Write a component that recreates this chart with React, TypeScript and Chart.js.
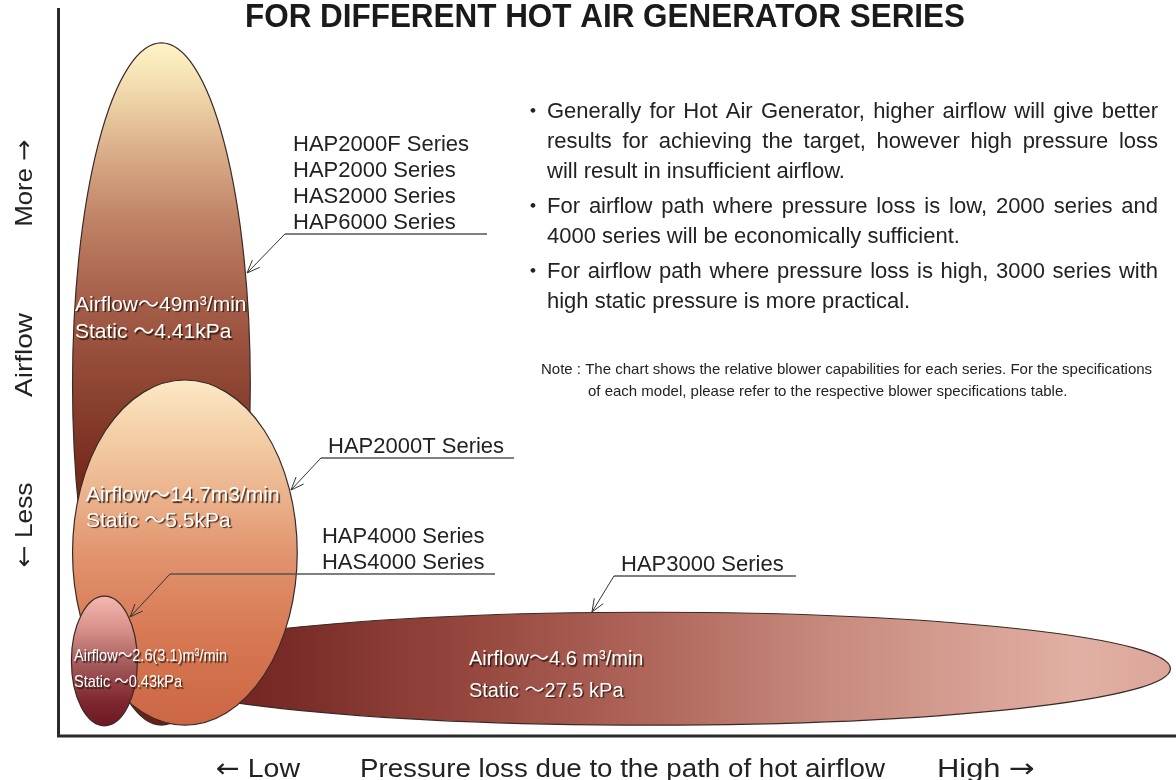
import React, { useEffect, useRef } from "react";
import { Chart, registerables } from "chart.js";

Chart.register(...registerables);

// ---- Data (relative blower capability ranges, arbitrary 0-100 units) ----
const SERIES = ["HAP2000F", "HAP3000", "HAP2000T", "HAP4000"]; // draw order
const PRESSURE_FROM = [1.3, 6.4, 1.3, 1.2];
const PRESSURE_TO = [17.2, 99.5, 21.4, 7.1];
const AIRFLOW_FROM = [1.5, 1.5, 1.5, 1.4];
const AIRFLOW_TO = [95.2, 17.0, 48.9, 19.2];

const SPEC_AIRFLOW = ["Airflow～49m³/min", "Airflow～4.6 m³/min", "Airflow～14.7m3/min", "Airflow～2.6(3.1)m³/min"];
const SPEC_STATIC = ["Static ～4.41kPa", "Static ～27.5 kPa", "Static ～5.5kPa", "Static ～0.43kPa"];
const SERIES_NAMES = [
  ["HAP2000F Series", "HAP2000 Series", "HAS2000 Series", "HAP6000 Series"],
  ["HAP3000 Series"],
  ["HAP2000T Series"],
  ["HAP4000 Series", "HAS4000 Series"],
];

const TITLE = "FOR DIFFERENT HOT AIR GENERATOR SERIES";
const Y_LABELS = ["More →", "Airflow", "← Less"];
const X_LABELS = ["← Low", "Pressure loss due to the path of hot airflow", "High →"];
const PARAGRAPHS = [
  [
    "Generally for Hot Air Generator, higher airflow will give better",
    "results for achieving the target, however high pressure loss",
    "will result in insufficient airflow.",
  ],
  ["For airflow path where pressure loss is low, 2000 series and", "4000 series will be economically sufficient."],
  ["For airflow path where pressure loss is high, 3000 series with", "high static pressure is more practical."],
];
const NOTE_LINES = [
  "Note : The chart shows the relative blower capabilities for each series. For the specifications",
  "of each model, please refer to the respective blower specifications table.",
];

// ---- Styles / layout ----
const FONT = '"Liberation Sans", "DejaVu Sans", "Noto Sans CJK JP", sans-serif';
const ARROW_FONT = '"DejaVu Sans", sans-serif';
const GRADIENTS: { dir: "v" | "h"; stops: [number, string][] }[] = [
  {
    dir: "v",
    stops: [
      [0, "#fef4c8"], [0.04, "#f8e6b8"], [0.09, "#ecd0a4"], [0.15, "#dcb28c"], [0.26, "#c08266"],
      [0.38, "#a55e48"], [0.52, "#8a4230"], [0.63, "#772b1d"], [1, "#6a2014"],
    ],
  },
  {
    dir: "h",
    stops: [
      [0, "#6a1c1a"], [0.16, "#7a2c28"], [0.33, "#96483f"], [0.49, "#ae6458"], [0.66, "#c6887c"],
      [0.84, "#daa498"], [0.91, "#e2b0a4"], [1, "#dca69a"],
    ],
  },
  {
    dir: "v",
    stops: [
      [0, "#fce9c6"], [0.15, "#f4d0a8"], [0.35, "#eab08a"], [0.52, "#e0926c"], [0.75, "#d67852"], [1, "#cc6644"],
    ],
  },
  {
    dir: "v",
    stops: [[0, "#f4b8b0"], [0.26, "#d8908a"], [0.5, "#a86060"], [0.8, "#802830"], [1, "#6c1822"]],
  },
];
// spec text anchor (data units) and font size
const SPEC_POS = [
  { x: 1.52, y1: 58.38, y2: 54.67, size: 21, maxW1: 0, maxW2: 0 },
  { x: 36.76, y1: 9.75, y2: 5.36, size: 20, maxW1: 0, maxW2: 0 },
  { x: 2.5, y1: 32.28, y2: 28.71, size: 21, maxW1: 0, maxW2: 0 },
  { x: 1.43, y1: 10.3, y2: 6.73, size: 17, maxW1: 153, maxW2: 108 },
];
// callouts (data units)
const CALLOUTS = [
  { tip: [16.91, 63.6], elbow: [20.3, 68.96], endX: 38.37, textX: 21.02 },
  { tip: [47.76, 17.03], elbow: [49.73, 21.98], endX: 66.01, textX: 50.36 },
  { tip: [20.84, 33.79], elbow: [23.52, 38.19], endX: 40.79, textX: 24.15 },
  { tip: [6.44, 16.35], elbow: [10.02, 22.25], endX: 39.09, textX: 23.61 },
];

function fitText(ctx: CanvasRenderingContext2D, text: string, x: number, y: number, width: number) {
  const w = ctx.measureText(text).width;
  ctx.save();
  ctx.translate(x, y);
  ctx.scale(width / w, 1);
  ctx.fillText(text, 0, 0);
  ctx.restore();
}

// text with arrow glyphs drawn in a font with long arrows, stretched to a width
function fitMixed(ctx: CanvasRenderingContext2D, text: string, x: number, y: number, width: number, size: number) {
  const runs: { t: string; f: string }[] = [];
  for (const ch of text) {
    const f = ch === "←" || ch === "→" ? `${size}px ${ARROW_FONT}` : `${size}px ${FONT}`;
    if (runs.length && runs[runs.length - 1].f === f) runs[runs.length - 1].t += ch;
    else runs.push({ t: ch, f });
  }
  const ws = runs.map((r) => {
    ctx.font = r.f;
    return ctx.measureText(r.t).width;
  });
  const total = ws.reduce((a, b) => a + b, 0);
  ctx.save();
  ctx.translate(x, y);
  ctx.scale(width / total, 1);
  let cx = 0;
  runs.forEach((r, i) => {
    ctx.font = r.f;
    ctx.fillText(r.t, cx, 0);
    cx += ws[i];
  });
  ctx.restore();
}

function justified(ctx: CanvasRenderingContext2D, line: string, x: number, y: number, width: number, full: boolean) {
  if (!full) {
    ctx.fillText(line, x, y);
    return;
  }
  const words = line.split(" ");
  const ws = words.map((w) => ctx.measureText(w).width);
  const total = ws.reduce((a, b) => a + b, 0);
  const gap = (width - total) / (words.length - 1);
  if (gap < 3) {
    ctx.fillText(line, x, y, width);
    return;
  }
  let cx = x;
  words.forEach((w, i) => {
    ctx.fillText(w, cx, y);
    cx += ws[i] + gap;
  });
}

const ellipsePlugin = {
  id: "ellipses",
  beforeDatasetsDraw(chart: any) {
    const { ctx, scales } = chart;
    const xs = scales.x;
    const ys = scales.y;
    SERIES.forEach((_, i) => {
      const l = xs.getPixelForValue(PRESSURE_FROM[i]);
      const r = xs.getPixelForValue(PRESSURE_TO[i]);
      const t = ys.getPixelForValue(AIRFLOW_TO[i]);
      const b = ys.getPixelForValue(AIRFLOW_FROM[i]);
      const g = GRADIENTS[i];
      const grad = g.dir === "v" ? ctx.createLinearGradient(0, t, 0, b) : ctx.createLinearGradient(l, 0, r, 0);
      g.stops.forEach(([o, c]) => grad.addColorStop(o, c));
      ctx.save();
      ctx.beginPath();
      ctx.ellipse((l + r) / 2, (t + b) / 2, (r - l) / 2, (b - t) / 2, 0, 0, Math.PI * 2);
      ctx.fillStyle = grad;
      ctx.fill();
      ctx.lineWidth = 1.2;
      ctx.strokeStyle = "#3a2a26";
      ctx.stroke();
      ctx.restore();
    });
  },
  afterDatasetsDraw(chart: any) {
    const { ctx, scales, chartArea } = chart;
    const xs = scales.x;
    const ys = scales.y;
    ctx.save();
    // spec texts inside ellipses
    SERIES.forEach((_, i) => {
      const p = SPEC_POS[i];
      ctx.font = `${p.size}px ${FONT}`;
      ctx.fillStyle = "#ffffff";
      ctx.shadowColor = "rgba(40,20,10,0.85)";
      ctx.shadowOffsetX = 1.5;
      ctx.shadowOffsetY = 1.5;
      ctx.shadowBlur = 1;
      ctx.textAlign = "left";
      ctx.textBaseline = "alphabetic";
      const px = xs.getPixelForValue(p.x);
      if (p.maxW1) ctx.fillText(SPEC_AIRFLOW[i], px, ys.getPixelForValue(p.y1), p.maxW1);
      else ctx.fillText(SPEC_AIRFLOW[i], px, ys.getPixelForValue(p.y1));
      if (p.maxW2) ctx.fillText(SPEC_STATIC[i], px, ys.getPixelForValue(p.y2), p.maxW2);
      else ctx.fillText(SPEC_STATIC[i], px, ys.getPixelForValue(p.y2));
    });
    ctx.shadowColor = "transparent";
    ctx.shadowOffsetX = 0;
    ctx.shadowOffsetY = 0;
    ctx.shadowBlur = 0;

    // callouts
    SERIES.forEach((_, i) => {
      const c = CALLOUTS[i];
      const tx = xs.getPixelForValue(c.tip[0]);
      const ty = ys.getPixelForValue(c.tip[1]);
      const ex = xs.getPixelForValue(c.elbow[0]);
      const ey = ys.getPixelForValue(c.elbow[1]);
      const endX = xs.getPixelForValue(c.endX);
      ctx.strokeStyle = "#555";
      ctx.lineWidth = 1.6;
      ctx.beginPath();
      ctx.moveTo(ex, ey);
      ctx.lineTo(endX, ey);
      ctx.stroke();
      ctx.strokeStyle = "#333";
      ctx.lineWidth = 1;
      ctx.beginPath();
      ctx.moveTo(ex, ey);
      ctx.lineTo(tx, ty);
      const ang = Math.atan2(ey - ty, ex - tx);
      const len = 14;
      const spread = 0.38;
      ctx.moveTo(tx + Math.cos(ang + spread) * len, ty + Math.sin(ang + spread) * len);
      ctx.lineTo(tx, ty);
      ctx.lineTo(tx + Math.cos(ang - spread) * len, ty + Math.sin(ang - spread) * len);
      ctx.stroke();
      ctx.fillStyle = "#222";
      ctx.font = `22px ${FONT}`;
      ctx.textAlign = "left";
      const names = SERIES_NAMES[i];
      const txx = xs.getPixelForValue(c.textX);
      names.forEach((n, k) => {
        ctx.fillText(n, txx, ey - 5 - (names.length - 1 - k) * 26);
      });
    });

    // axes
    ctx.strokeStyle = "#2a2a2a";
    ctx.lineWidth = 3;
    ctx.beginPath();
    ctx.moveTo(chartArea.left + 0.5, chartArea.top);
    ctx.lineTo(chartArea.left + 0.5, chartArea.bottom);
    ctx.lineTo(chartArea.right, chartArea.bottom);
    ctx.stroke();

    // title
    ctx.fillStyle = "#1a1a1a";
    ctx.font = `bold 34px ${FONT}`;
    ctx.textAlign = "left";
    fitText(ctx, TITLE, 245, 27, 720);

    // axis labels
    ctx.fillStyle = "#222";
    const yCenters = [183, 355, 525];
    const yWidths = [87, 84, 85];
    Y_LABELS.forEach((t, k) => {
      ctx.save();
      ctx.translate(32, yCenters[k]);
      ctx.rotate(-Math.PI / 2);
      fitMixed(ctx, t, -yWidths[k] / 2, 0, yWidths[k], 24);
      ctx.restore();
    });
    const xStarts = [216, 360, 937];
    const xWidths = [84, 525, 98];
    X_LABELS.forEach((t, k) => fitMixed(ctx, t, xStarts[k], 777, xWidths[k], 26));

    // paragraphs
    ctx.fillStyle = "#222";
    const pStarts = [118, 213, 278];
    PARAGRAPHS.forEach((lines, p) => {
      ctx.font = `22px "Noto Sans CJK JP", sans-serif`;
      ctx.fillText("・", 522, pStarts[p]);
      ctx.font = `22px ${FONT}`;
      lines.forEach((ln, k) => {
        justified(ctx, ln, 547, pStarts[p] + k * 30, 611, k < lines.length - 1);
      });
    });

    // note
    ctx.font = `15px ${FONT}`;
    ctx.fillText(NOTE_LINES[0], 541, 374, 629);
    ctx.fillText(NOTE_LINES[1], 588, 396, 582);
    ctx.restore();
  },
};

export default function App() {
  const ref = useRef<HTMLCanvasElement>(null);
  useEffect(() => {
    document.body.style.margin = "0";
    const canvas = ref.current!;
    const chart = new Chart(canvas, {
      type: "scatter",
      data: {
        datasets: SERIES.map((s, i) => ({
          label: s,
          data: [
            { x: PRESSURE_FROM[i], y: AIRFLOW_FROM[i] },
            { x: PRESSURE_TO[i], y: AIRFLOW_TO[i] },
          ],
          pointRadius: 0,
          pointHoverRadius: 0,
        })),
      },
      options: {
        responsive: false,
        animation: false,
        devicePixelRatio: 1,
        events: [],
        layout: { padding: { left: 58, right: 0, top: 8, bottom: 44 } },
        scales: {
          x: { type: "linear", min: 0, max: 100, display: false },
          y: { type: "linear", min: 0, max: 100, display: false },
        },
        plugins: { legend: { display: false }, tooltip: { enabled: false } },
      },
      plugins: [ellipsePlugin],
    });
    return () => chart.destroy();
  }, []);
  return (
    <div style={{ width: 1176, height: 780 }}>
      <canvas ref={ref} width={1176} height={780} style={{ display: "block" }} />
    </div>
  );
}
